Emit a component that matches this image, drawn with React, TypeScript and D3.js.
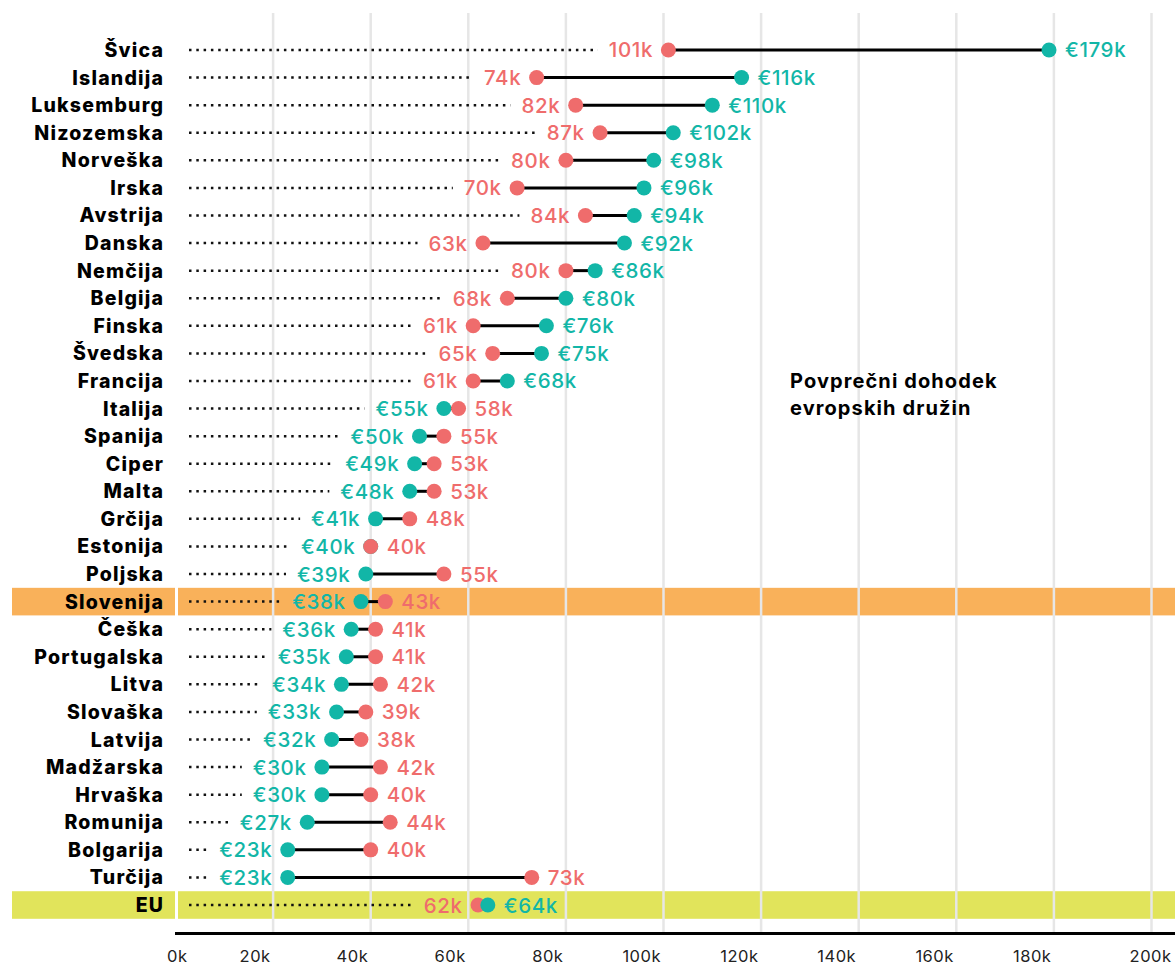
import React, { useRef, useEffect } from "react";
import * as d3 from "d3";

// rows top to bottom
const countries = [
  "Švica", "Islandija", "Luksemburg", "Nizozemska", "Norveška", "Irska",
  "Avstrija", "Danska", "Nemčija", "Belgija", "Finska", "Švedska",
  "Francija", "Italija", "Spanija", "Ciper", "Malta", "Grčija", "Estonija",
  "Poljska", "Slovenija", "Češka", "Portugalska", "Litva", "Slovaška",
  "Latvija", "Madžarska", "Hrvaška", "Romunija", "Bolgarija", "Turčija", "EU",
];
// red dots (k)
const ppsValues = [
  101, 74, 82, 87, 80, 70, 84, 63, 80, 68, 61, 65, 61, 58, 55, 53, 53, 48, 40,
  55, 43, 41, 41, 42, 39, 38, 42, 40, 44, 40, 73, 62,
];
// teal dots (€k)
const eurValues = [
  179, 116, 110, 102, 98, 96, 94, 92, 86, 80, 76, 75, 68, 55, 50, 49, 48, 41,
  40, 39, 38, 36, 35, 34, 33, 32, 30, 30, 27, 23, 23, 64,
];
const xTicks = [0, 20, 40, 60, 80, 100, 120, 140, 160, 180, 200];
const highlighted = ["Slovenija", "EU"];
const highlightColors = ["#f9b15a", "#e1e45b"];
const titleLines = ["Povprečni dohodek", "evropskih družin"];

const W = 1175;
const H = 965;
const RED = "#ef6c6c";
const TEAL = "#12b6a7";
const FONT = "Inter, sans-serif";

const App: React.FC = () => {
  const svgRef = useRef<SVGSVGElement>(null);

  useEffect(() => {
    const svg = d3.select(svgRef.current);
    svg.selectAll("*").remove();

    const x = d3.scaleLinear().domain([0, 200]).range([175.5, 1151.5]);
    const y = d3.scaleBand().domain(countries).range([36.2, 918.8]);
    const bw = y.bandwidth();
    const cy = (c: string) => y(c)! + bw / 2;

    const rows = countries.map((c, i) => ({ c, red: ppsValues[i], teal: eurValues[i] }));

    // highlight bands
    const hl = svg.append("g");
    highlighted.forEach((c, i) => {
      hl.append("rect").attr("x", 12).attr("width", 163)
        .attr("y", y(c)!).attr("height", bw).attr("fill", highlightColors[i]);
      hl.append("rect").attr("x", 178).attr("width", W - 178)
        .attr("y", y(c)!).attr("height", bw).attr("fill", highlightColors[i]);
    });

    // grid
    svg.append("g")
      .selectAll("line")
      .data(xTicks.filter((t) => t > 0))
      .join("line")
      .attr("x1", (d) => x(d)).attr("x2", (d) => x(d))
      .attr("y1", 13).attr("y2", 932)
      .attr("stroke", "#e6e6e6").attr("stroke-width", 2.5);

    // axis
    svg.append("line")
      .attr("x1", 175).attr("x2", W).attr("y1", 933.5).attr("y2", 933.5)
      .attr("stroke", "#000").attr("stroke-width", 3);

    svg.append("g")
      .selectAll("text")
      .data(xTicks)
      .join("text")
      .attr("x", (d, i) => (i === 0 ? x(d) - 8.5 : i === xTicks.length - 1 ? W - 3.5 : x(d) - 2.5))
      .attr("y", 962)
      .attr("text-anchor", (d, i) => (i === 0 ? "start" : "end"))
      .attr("font-family", FONT).attr("font-size", 16.5).attr("letter-spacing", 0.5)
      .attr("fill", "#222")
      .text((d) => `${d}k`);

    // country labels
    svg.append("g")
      .selectAll("text")
      .data(countries)
      .join("text")
      .attr("x", 164.2).attr("y", (d) => cy(d) + 7)
      .attr("text-anchor", "end")
      .attr("font-family", FONT).attr("font-weight", 800).attr("font-size", 19.5)
      .attr("letter-spacing", 1.2)
      .attr("fill", "#000")
      .text((d) => d);

    // title
    svg.append("g")
      .selectAll("text")
      .data(titleLines)
      .join("text")
      .attr("x", 790).attr("y", (d, i) => 388 + i * 27)
      .attr("font-family", FONT).attr("font-weight", 700).attr("font-size", 20)
      .attr("letter-spacing", 1.1)
      .attr("fill", "#000")
      .text((d) => d);

    const dotsLayer = svg.append("g");
    rows.forEach((r) => {
      const tealLeft = r.teal <= r.red;
      const left = tealLeft
        ? { v: r.teal, col: TEAL, label: `€${r.teal}k` }
        : { v: r.red, col: RED, label: `${r.red}k` };
      const right = tealLeft
        ? { v: r.red, col: RED, label: `${r.red}k` }
        : { v: r.teal, col: TEAL, label: `€${r.teal}k` };
      const yy = cy(r.c);
      const g = dotsLayer.append("g");

      const lt = g.append("text")
        .attr("x", x(left.v) - 15.4).attr("y", yy + 7.5)
        .attr("text-anchor", "end")
        .attr("font-family", FONT).attr("font-weight", 500).attr("font-size", 20.5)
        .attr("letter-spacing", 0.6)
        .attr("fill", left.col).text(left.label);
      g.append("text")
        .attr("x", x(right.v) + 16).attr("y", yy + 7.5)
        .attr("font-family", FONT).attr("font-weight", 500).attr("font-size", 20.5)
        .attr("letter-spacing", 0.6)
        .attr("fill", right.col).text(right.label);

      // dotted leader from the axis start up to the left label
      const bb = (lt.node() as SVGTextElement).getBBox();
      g.insert("line", ":first-child")
        .attr("x1", 189).attr("x2", bb.x - 11)
        .attr("y1", yy).attr("y2", yy)
        .attr("stroke", "#111").attr("stroke-width", 2.5)
        .attr("stroke-dasharray", "2.5 4.8");

      g.append("line")
        .attr("x1", x(left.v)).attr("x2", x(right.v))
        .attr("y1", yy).attr("y2", yy)
        .attr("stroke", "#000").attr("stroke-width", 3);
      g.append("circle").attr("cx", x(left.v)).attr("cy", yy).attr("r", 7.5).attr("fill", left.col);
      g.append("circle").attr("cx", x(right.v)).attr("cy", yy).attr("r", 7.5).attr("fill", right.col);
    });
  }, []);

  return (
    <>
      <style>{`body{margin:0}`}</style>
      <svg ref={svgRef} width={W} height={H} style={{ display: "block", background: "#fff" }} />
    </>
  );
};

export default App;
